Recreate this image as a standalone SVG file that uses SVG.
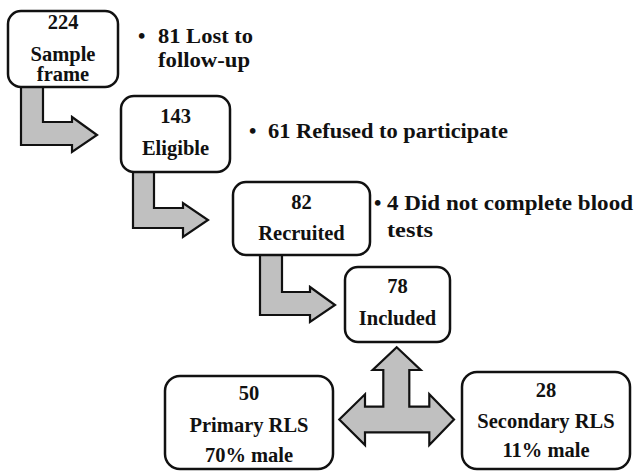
<svg xmlns="http://www.w3.org/2000/svg" width="635" height="471" viewBox="0 0 635 471">
<style>
.box{fill:#fff;stroke:#111;stroke-width:2.5}
.arr{fill:#c0c0c0;stroke:#111;stroke-width:2.2;stroke-linejoin:miter}
text{font-family:'Liberation Serif','Times New Roman','DejaVu Serif',serif;font-weight:700;font-size:20.5px;fill:#111}
.c{text-anchor:middle}
.n{font-size:21px}
</style>
<rect width="635" height="471" fill="#fff"/>
<g id="connectors">
<polygon class="arr" points="21,87 43,87 43,122 72,122 72,117 97,135 72,152 72,145 21,145"/>
<polygon class="arr" points="133,172 154,172 154,208 183,208 183,203 208,220 183,237 183,228 133,228"/>
<polygon class="arr" points="260,255 282,255 282,292 310,292 310,287 335,305 310,322 310,315 260,315"/>
<polygon class="arr" points="396.7,347.3 420.7,370 409.3,370 409.3,406.7 429.3,406.7 429.3,394.3 454,419.5 429.3,445 429.3,432.3 365,432.3 365,445 339.3,419.5 365,394.3 365,406.7 383.3,406.7 383.3,370 372.7,370"/>
</g>
<g id="sample">
<rect class="box" x="8" y="11" width="110" height="76" rx="13"/>
<text class="c" x="63" y="29">224</text>
<text class="c" x="63" y="61">Sample</text>
<text class="c" x="63" y="81">frame</text>
</g>
<g id="note1">
<text class="n" x="138" y="43">•</text>
<text class="n" x="158" y="43" textLength="95" lengthAdjust="spacingAndGlyphs">81 Lost to</text>
<text class="n" x="158" y="67" textLength="92" lengthAdjust="spacingAndGlyphs">follow-up</text>
</g>
<g id="eligible">
<rect class="box" x="121" y="96" width="109" height="76" rx="13"/>
<text class="c" x="175.5" y="123">143</text>
<text class="c" x="175.5" y="155">Eligible</text>
</g>
<g id="note2">
<text class="n" x="249" y="138">•</text>
<text class="n" x="268" y="138" textLength="240" lengthAdjust="spacingAndGlyphs">61 Refused to participate</text>
</g>
<g id="recruited">
<rect class="box" x="233" y="182" width="137" height="73" rx="13"/>
<text class="c" x="301.5" y="209">82</text>
<text class="c" x="301.5" y="240">Recruited</text>
</g>
<g id="note3">
<text class="n" x="374" y="210">•</text>
<text class="n" x="387" y="210" textLength="246" lengthAdjust="spacingAndGlyphs">4 Did not complete blood</text>
<text class="n" x="387" y="237" textLength="46" lengthAdjust="spacingAndGlyphs">tests</text>
</g>
<g id="included">
<rect class="box" x="345" y="267" width="105" height="75" rx="13"/>
<text class="c" x="397.5" y="293">78</text>
<text class="c" x="397.5" y="325">Included</text>
</g>
<g id="primary">
<rect class="box" x="165" y="376" width="168" height="93" rx="15"/>
<text class="c" x="249" y="400">50</text>
<text class="c" x="249" y="432">Primary RLS</text>
<text class="c" x="249" y="462">70% male</text>
</g>
<g id="secondary">
<rect class="box" x="462" y="372" width="168" height="97" rx="15"/>
<text class="c" x="546" y="397">28</text>
<text class="c" x="546" y="428">Secondary RLS</text>
<text class="c" x="546" y="457">11% male</text>
</g>
</svg>
